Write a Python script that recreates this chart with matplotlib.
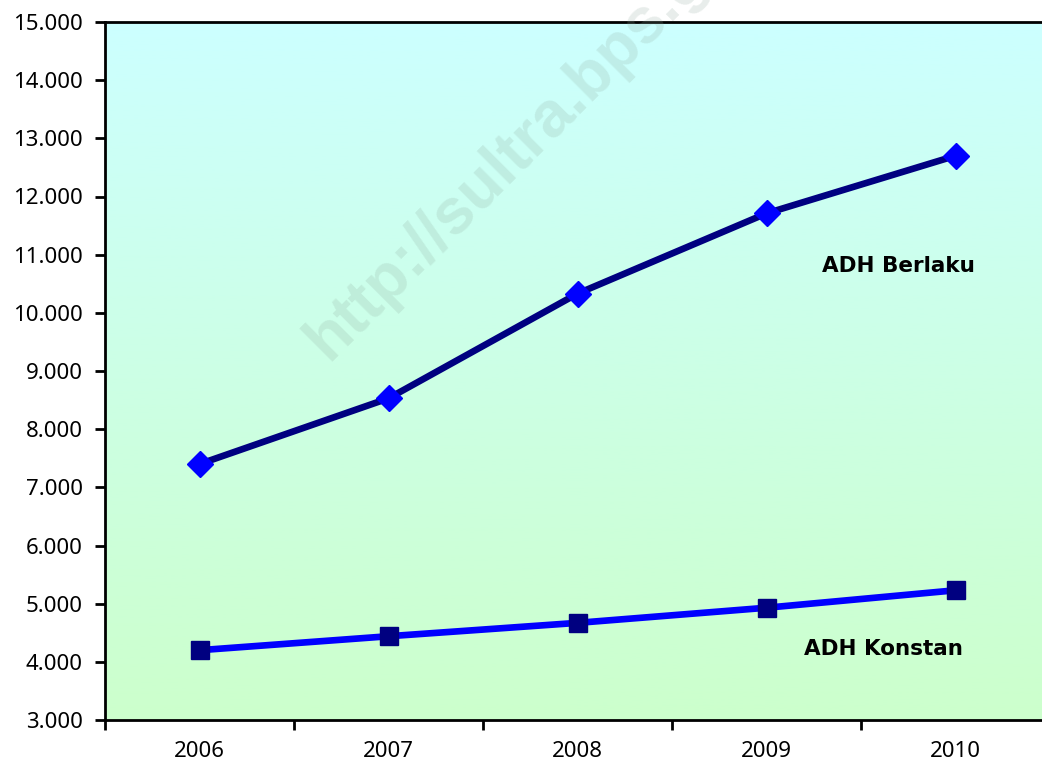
import matplotlib
matplotlib.use('Agg')

import numpy as np
import matplotlib.pyplot as plt
from matplotlib.colors import LinearSegmentedColormap
from matplotlib.ticker import FuncFormatter, MultipleLocator

plt.rcParams['font.family'] = ['Noto Sans', 'DejaVu Sans']

# --- data (miliar rupiah) ---
years = ['2006', '2007', '2008', '2009', '2010']
adh_berlaku = [7400, 8530, 10330, 11710, 12700]
adh_konstan = [4200, 4440, 4670, 4930, 5230]

x = np.arange(len(years))

fig = plt.figure(figsize=(10.42, 7.70), dpi=100)
ax = fig.add_axes([105 / 1042, 50 / 770, 945 / 1042, 698 / 770])

# background gradient cyan -> light green
grad = LinearSegmentedColormap.from_list('bg', ['#ccffcc', '#ccffff'])
ax.imshow(np.linspace(0, 1, 256).reshape(-1, 1), cmap=grad, origin='lower',
          aspect='auto', extent=[0, 1, 0, 1], transform=ax.transAxes, zorder=0)

ax.plot(x, adh_berlaku, color='#000080', linewidth=4.8, marker='D',
        markersize=13.5, markerfacecolor='#0000ff', markeredgecolor='#0000ff',
        zorder=3, clip_on=False)
ax.plot(x, adh_konstan, color='#0000ff', linewidth=4.8, marker='s',
        markersize=13, markerfacecolor='#000080', markeredgecolor='#000080',
        zorder=3, clip_on=False)

ax.text(3.70, 10800, 'ADH Berlaku', fontsize=15.5, fontweight='bold',
        family='DejaVu Sans', ha='center', va='center', zorder=4)
ax.text(3.62, 4220, 'ADH Konstan', fontsize=15.5, fontweight='bold',
        family='DejaVu Sans', ha='center', va='center', zorder=4)

ax.set_xlim(-0.5, 4.5)
ax.set_ylim(3000, 15000)
ax.yaxis.set_major_locator(MultipleLocator(1000))
ax.yaxis.set_major_formatter(FuncFormatter(lambda v, p: f'{int(v):,}'.replace(',', '.')))

# category axis: ticks between categories, labels at centers
ax.set_xticks(np.arange(-0.5, 5.0, 1.0))
ax.set_xticklabels([])
ax.set_xticks(x, minor=True)
ax.set_xticklabels(years, minor=True)
ax.tick_params(axis='x', which='major', direction='out', length=7, width=2)
ax.tick_params(axis='x', which='minor', length=0, pad=15, labelsize=16)
ax.tick_params(axis='y', direction='out', length=7, width=2, pad=9, labelsize=16)

for s in ['left', 'bottom', 'top', 'right']:
    ax.spines[s].set_linewidth(2)
    ax.spines[s].set_color('black')

# watermark
fig.text(328 / 1042, 1 - 362 / 770, 'http://sultra.bps.go.id', fontsize=46,
         fontweight='bold', family='Liberation Sans', color=(0.55, 0.65, 0.6),
         alpha=0.2, rotation=45, rotation_mode='anchor', ha='left',
         va='baseline', zorder=10)

fig.savefig('out.png', dpi=100)
